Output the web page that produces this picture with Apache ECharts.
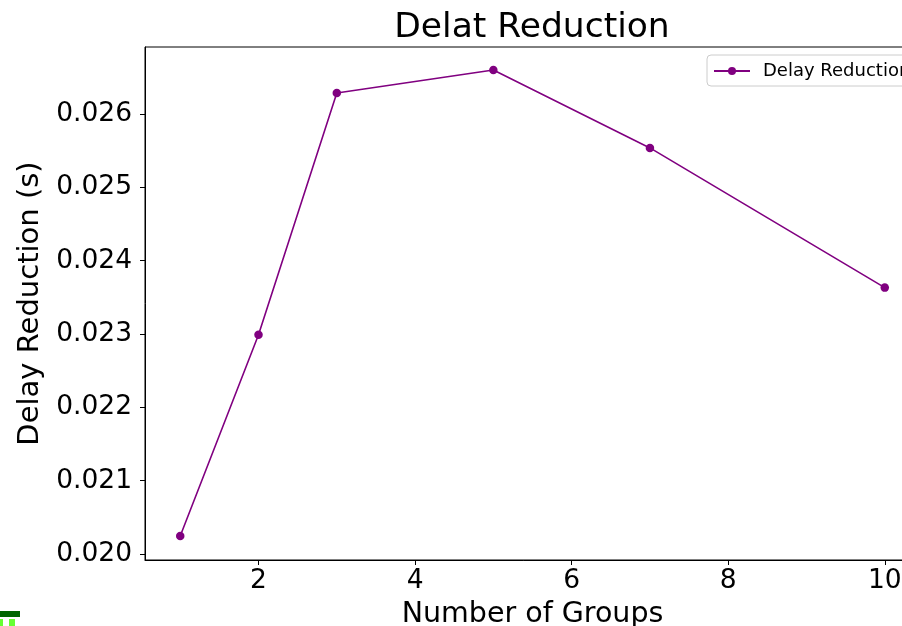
<!DOCTYPE html>
<html>
<head>
<meta charset="utf-8">
<script src="https://cdn.jsdelivr.net/npm/echarts@6/dist/echarts.min.js"></script>
<style>html,body{margin:0;padding:0;background:#fff;}#c{width:902px;height:626px;}</style>
</head>
<body>
<div id="c"></div>
<script>
const groups = [1, 2, 3, 5, 7, 10];
const delayReduction = [0.020245, 0.022990, 0.026286, 0.026599, 0.025537, 0.023632];
const xTicks = [2, 4, 6, 8, 10];
const yTicks = [0.020, 0.021, 0.022, 0.023, 0.024, 0.025, 0.026];
const FONT = 'DejaVu Sans';

const chart = echarts.init(document.getElementById('c'), null, {renderer: 'canvas'});
chart.setOption({
  animation: false,
  backgroundColor: '#fff',
  title: {
    text: 'Delat Reduction',
    left: 527, textAlign: 'center', top: 6,
    textStyle: {fontFamily: FONT, fontSize: 34.5, fontWeight: 'normal', color: '#000'}
  },
  legend: {
    left: 707, top: 55,
    padding: [7, 8, 6, 6],
    borderColor: '#cccccc', borderWidth: 1, borderRadius: 4,
    itemWidth: 36, itemHeight: 10,
    textStyle: {fontFamily: FONT, fontSize: 18, color: '#000', padding: [0, 0, 0, 8]},
    data: ['Delay Reduction']
  },
  grid: {left: 145, top: 47, width: 775, height: 513, show: true, borderColor: '#000', borderWidth: 1,
    containLabel: false, outerBoundsMode: 'none'},
  xAxis: {
    type: 'value', min: 0.55, max: 10.45,
    name: 'Number of Groups', nameLocation: 'middle', nameGap: 37,
    nameTextStyle: {fontFamily: FONT, fontSize: 28.5, color: '#000'},
    axisLine: {lineStyle: {color: '#000', width: 1}},
    axisTick: {show: true, length: 5, customValues: xTicks, lineStyle: {color: '#000'}},
    axisLabel: {customValues: xTicks, fontFamily: FONT, fontSize: 26.5, color: '#000', margin: 8},
    splitLine: {show: false}
  },
  yAxis: {
    type: 'value', min: 0.019918, max: 0.026913,
    name: 'Delay Reduction (s)', nameLocation: 'middle', nameGap: 95,
    nameTextStyle: {fontFamily: FONT, fontSize: 29, color: '#000'},
    axisLine: {show: true, lineStyle: {color: '#000', width: 1}},
    axisTick: {show: true, length: 5, customValues: yTicks, lineStyle: {color: '#000'}},
    axisLabel: {customValues: yTicks, fontFamily: FONT, fontSize: 26.5, color: '#000', margin: 13,
      formatter: v => v.toFixed(3)},
    splitLine: {show: false}
  },
  series: [{
    name: 'Delay Reduction',
    type: 'line',
    data: groups.map((g, i) => [g, delayReduction[i]]),
    color: '#800080',
    symbol: 'circle', symbolSize: 8.5,
    lineStyle: {width: 1.6, color: '#800080'},
    itemStyle: {color: '#800080'}
  }],
  graphic: [
    {type: 'rect', shape: {x: 0, y: 611, width: 20, height: 6}, style: {fill: '#006400'}},
    {type: 'rect', shape: {x: 0, y: 619, width: 3, height: 7}, style: {fill: '#66ff33'}},
    {type: 'rect', shape: {x: 9, y: 619, width: 6, height: 7}, style: {fill: '#66ff33'}}
  ]
});
</script>
</body>
</html>
